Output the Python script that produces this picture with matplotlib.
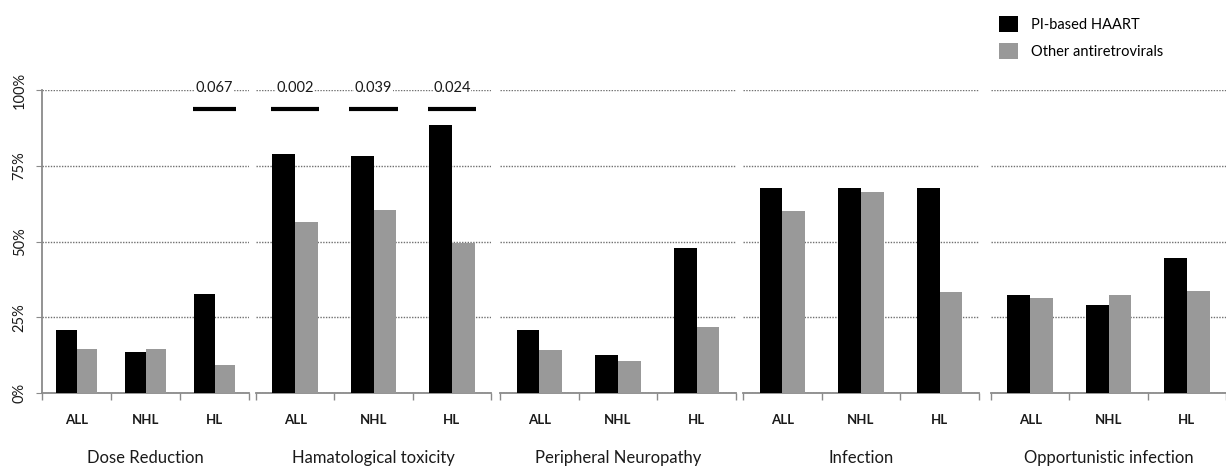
import numpy as np
import matplotlib
matplotlib.use('Agg')
import matplotlib.pyplot as plt
from matplotlib.patches import Patch

plt.rcParams['font.family'] = ['Lato', 'DejaVu Sans']

# data (percent)
groups = ['Dose Reduction', 'Hamatological toxicity', 'Peripheral Neuropathy',
          'Infection', 'Opportunistic infection']
subtypes = ['ALL', 'NHL', 'HL']
pi_haart = [[20.8, 13.5, 32.7],
            [78.9, 78.3, 88.4],
            [20.8, 12.4, 48.0],
            [67.8, 67.8, 67.8],
            [32.4, 29.1, 44.4]]
other_arv = [[14.6, 14.6, 9.1],
             [56.3, 60.3, 49.6],
             [14.1, 10.6, 21.9],
             [60.2, 66.5, 33.2],
             [31.2, 32.3, 33.7]]
# p-values: (group index, subtype index, label)
pvals = [(0, 2, '0.067'), (1, 0, '0.002'), (1, 1, '0.039'), (1, 2, '0.024')]

black = '#000000'
gray = '#999999'
spine_col = '#8a8a8a'
txt = '#1a1a1a'

fig = plt.figure(figsize=(12.26, 4.70), dpi=100)

# panel placement in pixels (left, width)
panels = [(42, 207), (256, 235), (500, 236), (743, 236), (991, 235)]
W, H = 1226, 470
top_px, bot_px = 90, 393

x = np.arange(3) + 0.5
bw = 0.29
axes = []
for i, (lft, wid) in enumerate(panels):
    ax = fig.add_axes([lft / W, 1 - bot_px / H, wid / W, (bot_px - top_px) / H])
    axes.append(ax)
    ax.bar(x - bw / 2, pi_haart[i], bw, color=black, zorder=3)
    ax.bar(x + bw / 2, other_arv[i], bw, color=gray, zorder=3)
    ax.set_xlim(0, 3)
    ax.set_ylim(0, 100)
    ax.set_yticks([0, 25, 50, 75, 100])
    ax.yaxis.grid(True, linestyle=(0, (1, 1)), color='#707070', linewidth=1.0, zorder=0)
    ax.set_axisbelow(True)
    ax.set_xticks([0, 1, 2, 3])
    ax.set_xticklabels([])
    ax.tick_params(axis='x', which='major', length=5, width=1, color=spine_col, direction='out')
    ax.set_xticks(x, minor=True)
    ax.set_xticklabels(subtypes, minor=True, fontsize=9.5, fontweight='bold', color=txt)
    ax.tick_params(axis='x', which='minor', length=0, pad=15)
    for s in ['top', 'right']:
        ax.spines[s].set_visible(False)
    ax.spines['bottom'].set_color(spine_col)
    ax.spines['bottom'].set_linewidth(1.3)
    if i == 0:
        ax.spines['left'].set_color(spine_col)
        ax.spines['left'].set_linewidth(1.3)
        ax.set_yticklabels(['0%', '25%', '50%', '75%', '100%'], rotation=90,
                           va='center', fontsize=10.5, color=txt)
        ax.tick_params(axis='y', length=4, color=spine_col, direction='out', pad=7)
    else:
        ax.spines['left'].set_visible(False)
        ax.tick_params(axis='y', length=0, labelleft=False)
    ax.text(1.5, -0.215, groups[i], transform=ax.get_xaxis_transform(),
            ha='center', va='center', fontsize=12, color=txt)
    ax.patch.set_alpha(0)

for gi, si, lab in pvals:
    ax = axes[gi]
    ax.plot([x[si] - bw - 0.02, x[si] + bw + 0.02], [93.8, 93.8], color=black,
            linewidth=3, solid_capstyle='butt', clip_on=False, zorder=4)
    ax.text(x[si], 100.5, lab, ha='center', va='center', fontsize=10.5,
            color=txt, zorder=5,
            bbox=dict(facecolor='white', edgecolor='none', pad=0.3))

handles = [Patch(facecolor=black, label='PI-based HAART'),
           Patch(facecolor=gray, label='Other antiretrovirals')]
fig.legend(handles=handles, loc='upper left', bbox_to_anchor=(986 / W, 1 - 3 / H),
           frameon=False, fontsize=10.5, handlelength=1.3, handleheight=1.3,
           handletextpad=0.9, labelspacing=0.75, prop={'weight': 'normal', 'size': 10.5})

fig.savefig('out.png', dpi=100)
